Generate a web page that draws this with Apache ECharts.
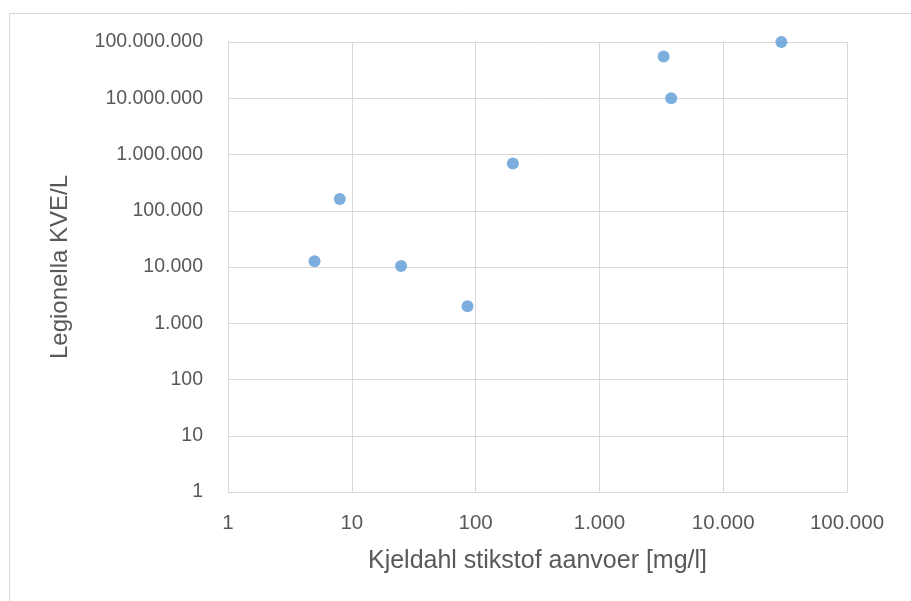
<!DOCTYPE html>
<html>
<head>
<meta charset="utf-8">
<script src="https://cdn.jsdelivr.net/npm/echarts@6/dist/echarts.min.js"></script>
<style>
html,body{margin:0;padding:0;background:#fff;}
#chart{width:911px;height:601px;}
</style>
</head>
<body>
<div id="chart"></div>
<script>
const xTitle = 'Kjeldahl stikstof aanvoer [mg/l]';
const yTitle = 'Legionella KVE/L';
const nitrogen = [5, 8, 25, 86, 200, 3300, 3800, 29500];
const legionella = [12600, 161000, 10400, 2000, 690000, 55000000, 10000000, 100000000];
const xRange = [1, 100000];
const yRange = [1, 100000000];

function fmt(v) {
  return Math.round(v).toString().replace(/\B(?=(\d{3})+(?!\d))/g, '.');
}

const points = nitrogen.map((x, i) => [x, legionella[i]]);
const textColor = '#595959';
const gridColor = '#D9D9D9';

const chart = echarts.init(document.getElementById('chart'), null, {renderer: 'canvas'});
chart.setOption({
  animation: false,
  backgroundColor: '#ffffff',
  graphic: [{
    type: 'rect',
    shape: {x: 9.5, y: 13.5, width: 1000, height: 1000},
    style: {fill: 'none', stroke: gridColor, lineWidth: 1},
    silent: true
  }],
  grid: {left: 228, top: 42, right: 64, bottom: 109, containLabel: false},
  xAxis: {
    type: 'log',
    logBase: 10,
    min: xRange[0],
    max: xRange[1],
    interval: 1,
    name: xTitle,
    nameLocation: 'middle',
    nameGap: 57,
    nameTextStyle: {color: textColor, fontSize: 25, fontFamily: 'Liberation Sans'},
    axisLine: {show: true, lineStyle: {color: gridColor, width: 1}},
    axisTick: {show: false},
    axisLabel: {color: textColor, fontSize: 20.5, fontFamily: 'Liberation Sans', margin: 21, formatter: fmt},
    splitLine: {show: true, lineStyle: {color: gridColor, width: 1}},
    minorTick: {show: false},
    minorSplitLine: {show: false}
  },
  yAxis: {
    type: 'log',
    logBase: 10,
    min: yRange[0],
    max: yRange[1],
    interval: 1,
    name: yTitle,
    nameLocation: 'middle',
    nameGap: 156,
    nameRotate: 90,
    nameTextStyle: {color: textColor, fontSize: 24, fontFamily: 'Liberation Sans'},
    axisLine: {show: true, lineStyle: {color: gridColor, width: 1}},
    axisTick: {show: false},
    axisLabel: {color: textColor, fontSize: 19.5, fontFamily: 'Liberation Sans', margin: 25, formatter: fmt},
    splitLine: {show: true, lineStyle: {color: gridColor, width: 1}}
  },
  series: [{
    type: 'scatter',
    data: points,
    symbol: 'circle',
    symbolSize: 12,
    clip: false,
    itemStyle: {color: '#5B9BD5'}
  }]
});
</script>
</body>
</html>
